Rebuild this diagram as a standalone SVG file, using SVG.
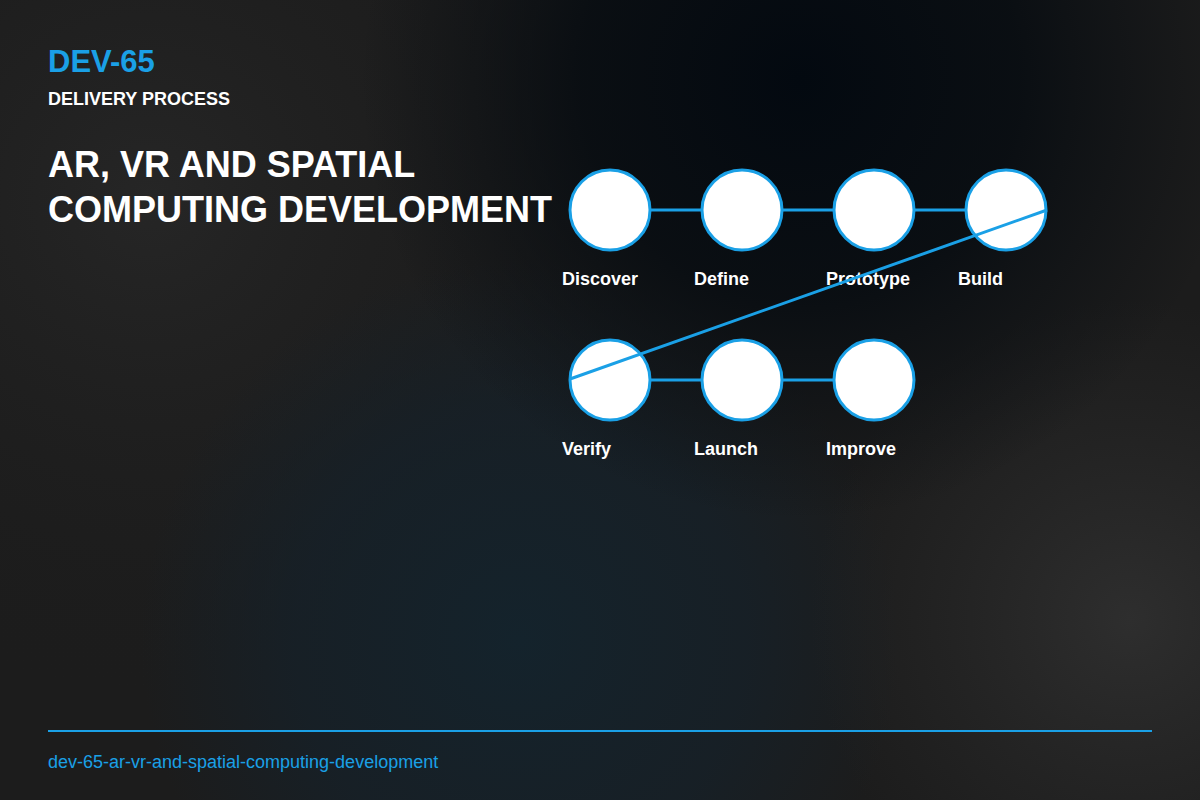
<svg xmlns="http://www.w3.org/2000/svg" width="1200" height="800" viewBox="0 0 1200 800">
<defs>
<radialGradient id="gDark" cx="800" cy="80" r="440" gradientUnits="userSpaceOnUse">
<stop offset="0" stop-color="#030910" stop-opacity="1"/>
<stop offset="0.5" stop-color="#070c11" stop-opacity="0.85"/>
<stop offset="1" stop-color="#0a0e12" stop-opacity="0"/>
</radialGradient>
<radialGradient id="gTeal" cx="520" cy="640" r="380" gradientUnits="userSpaceOnUse">
<stop offset="0" stop-color="#14232c" stop-opacity="1"/>
<stop offset="0.6" stop-color="#15212a" stop-opacity="0.7"/>
<stop offset="1" stop-color="#15212a" stop-opacity="0"/>
</radialGradient>
<radialGradient id="gLight" cx="1130" cy="620" r="320" gradientUnits="userSpaceOnUse">
<stop offset="0" stop-color="#2e2e2e" stop-opacity="1"/>
<stop offset="1" stop-color="#2a2a2a" stop-opacity="0"/>
</radialGradient>
<radialGradient id="gLeft" cx="150" cy="200" r="500" gradientUnits="userSpaceOnUse">
<stop offset="0" stop-color="#262626" stop-opacity="1"/>
<stop offset="1" stop-color="#1c1c1c" stop-opacity="0"/>
</radialGradient>
<style>
.node circle{fill:#ffffff;stroke:#1aa0e6;stroke-width:3}
.lbl{font-family:"Liberation Sans",Arial,sans-serif;font-weight:bold;font-size:18px;fill:#ffffff}
.conn line{stroke:#1aa0e6;stroke-width:3;fill:none}
</style>
</defs>
<rect width="1200" height="800" fill="#1c1c1c"/>
<rect width="1200" height="800" fill="url(#gLeft)"/>
<rect width="1200" height="800" fill="url(#gTeal)"/>
<rect width="1200" height="800" fill="url(#gLight)"/>
<rect width="1200" height="800" fill="url(#gDark)"/>

<g id="header">
<text x="48" y="72" font-family="Liberation Sans,Arial,sans-serif" font-weight="bold" font-size="31" fill="#1aa0e6">DEV-65</text>
<text x="48" y="105" font-family="Liberation Sans,Arial,sans-serif" font-weight="bold" font-size="18" fill="#ffffff">DELIVERY PROCESS</text>
<text font-family="Liberation Sans,Arial,sans-serif" font-weight="bold" font-size="36" fill="#ffffff"><tspan x="48" y="177">AR, VR AND SPATIAL</tspan><tspan x="48" y="222">COMPUTING DEVELOPMENT</tspan></text>
</g>

<g id="connectors-back" class="conn">
<line x1="650" y1="210" x2="702" y2="210"/>
<line x1="782" y1="210" x2="834" y2="210"/>
<line x1="914" y1="210" x2="966" y2="210"/>
<line x1="650" y1="380" x2="702" y2="380"/>
<line x1="782" y1="380" x2="834" y2="380"/>
</g>

<g id="node-discover" class="node"><circle cx="610" cy="210" r="40"/><text class="lbl" x="562" y="285">Discover</text></g>
<g id="node-define" class="node"><circle cx="742" cy="210" r="40"/><text class="lbl" x="694" y="285">Define</text></g>
<g id="node-prototype" class="node"><circle cx="874" cy="210" r="40"/><text class="lbl" x="826" y="285">Prototype</text></g>
<g id="node-build" class="node"><circle cx="1006" cy="210" r="40"/><text class="lbl" x="958" y="285">Build</text></g>
<g id="node-verify" class="node"><circle cx="610" cy="380" r="40"/><text class="lbl" x="562" y="455">Verify</text></g>
<g id="node-launch" class="node"><circle cx="742" cy="380" r="40"/><text class="lbl" x="694" y="455">Launch</text></g>
<g id="node-improve" class="node"><circle cx="874" cy="380" r="40"/><text class="lbl" x="826" y="455">Improve</text></g>

<g id="connectors" class="conn">
<line x1="1047" y1="210" x2="570" y2="379" stroke-width="2"/>
</g>

<g id="footer">
<line x1="48" y1="731" x2="1152" y2="731" stroke="#1aa0e6" stroke-width="2"/>
<text x="48" y="768" font-family="Liberation Sans,Arial,sans-serif" font-size="18" fill="#1aa0e6">dev-65-ar-vr-and-spatial-computing-development</text>
</g>
</svg>
